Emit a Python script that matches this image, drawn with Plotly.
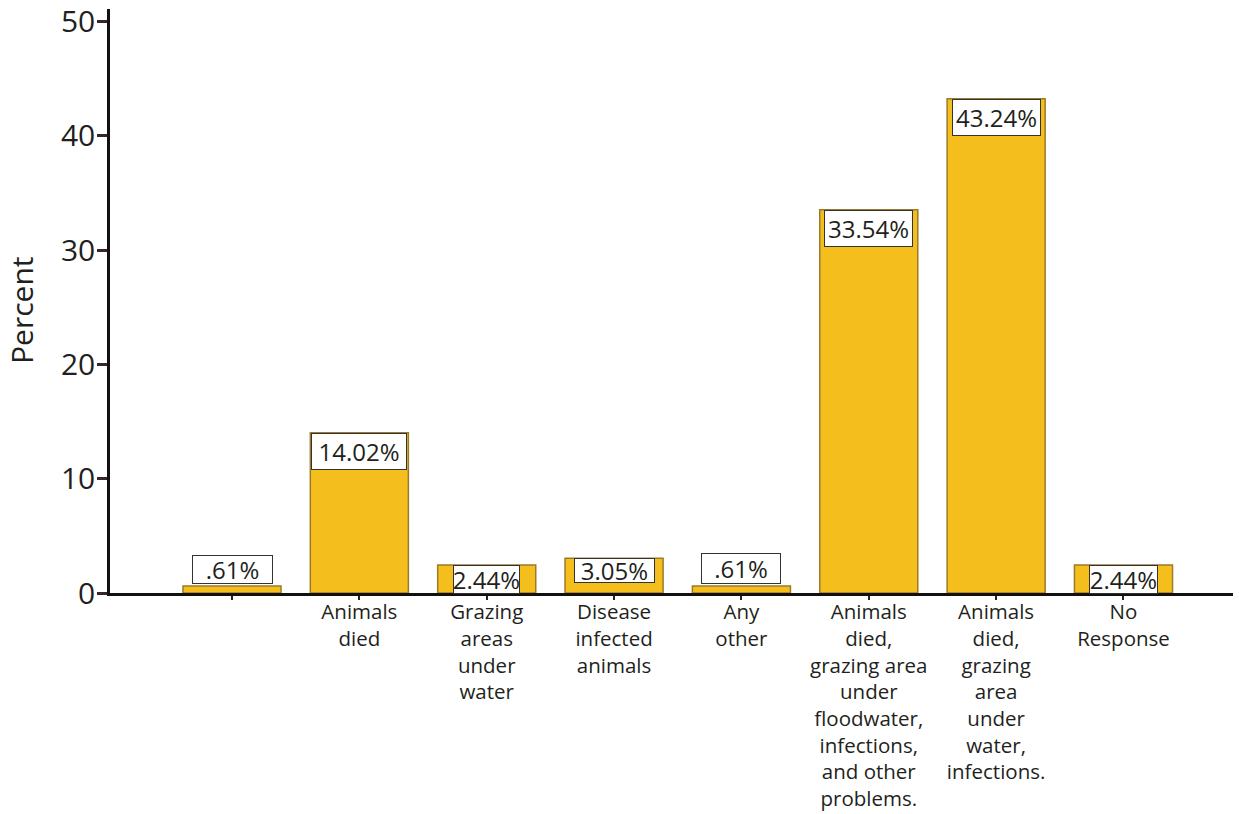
import plotly.graph_objects as go

# Reported impact on livestock (percent of respondents)
categories = [
    "",
    "Animals<br>died",
    "Grazing<br>areas<br>under<br>water",
    "Disease<br>infected<br>animals",
    "Any<br>other",
    "Animals<br>died,<br>grazing area<br>under<br>floodwater,<br>infections,<br>and other<br>problems.",
    "Animals<br>died,<br>grazing<br>area<br>under<br>water,<br>infections.",
    "No<br>Response",
]
percent = [0.61, 14.02, 2.44, 3.05, 0.61, 33.54, 43.24, 2.44]
y_ticks = [0, 10, 20, 30, 40, 50]

# size of each value box in pixels (width, height)
box_sizes = [(79, 27), (94, 35), (65, 27), (79, 23), (78, 29), (87, 35), (87, 35), (67, 27)]

FONT = "Open Sans"
TEXT = "#231f20"
BAR = "#f4bf1c"
EDGE = "#9c7a2c"

positions = list(range(len(categories)))


def fmt(v):
    s = f"{v:.2f}%"
    return s[1:] if s.startswith("0.") else s


fig = go.Figure(
    go.Bar(
        x=positions,
        y=percent,
        width=0.77,
        marker=dict(color=BAR, line=dict(color=EDGE, width=1.5)),
        hoverinfo="skip",
    )
)

# value boxes: inside the top of the bar, or just above it for tiny bars
for xi, v, (bw, bh) in zip(positions, percent, box_sizes):
    tiny = v < 1
    fig.add_annotation(
        x=xi,
        y=v,
        xref="x",
        yref="y",
        text=fmt(v),
        showarrow=False,
        yanchor="bottom" if tiny else "top",
        yshift=2 if tiny else 0,
        width=bw,
        height=bh,
        align="center",
        valign="middle",
        bgcolor="white",
        bordercolor="#333333",
        borderwidth=1,
        borderpad=0,
        font=dict(family=FONT, size=24, color=TEXT),
    )

fig.add_annotation(
    text="Percent",
    xref="paper",
    yref="paper",
    x=(22 - 110) / 1123,
    y=0.483,
    xanchor="center",
    yanchor="middle",
    showarrow=False,
    textangle=-90,
    font=dict(family=FONT, size=30, color=TEXT),
)

fig.update_layout(
    width=1239,
    height=814,
    margin=dict(l=110, r=6, t=9, b=221),
    paper_bgcolor="white",
    plot_bgcolor="white",
    showlegend=False,
    font=dict(family=FONT, color=TEXT),
)

fig.update_xaxes(
    range=[-0.958, 7.86],
    tickmode="array",
    tickvals=positions,
    ticktext=categories,
    tickangle=0,
    ticks="outside",
    ticklen=4,
    tickwidth=2,
    tickcolor="#2a1e1e",
    tickfont=dict(family=FONT, size=20.5, color=TEXT),
    ticklabelstandoff=-5,
    showline=True,
    linecolor="#111111",
    linewidth=2.5,
    showgrid=False,
    zeroline=False,
    automargin=False,
)

fig.update_yaxes(
    range=[0, 51.1],
    tickmode="array",
    tickvals=y_ticks,
    ticks="outside",
    ticklen=10,
    tickwidth=2.5,
    tickcolor="#3a2626",
    tickfont=dict(family=FONT, size=30, color=TEXT),
    ticklabelstandoff=-4,
    showline=True,
    linecolor="#111111",
    linewidth=2.5,
    showgrid=False,
    zeroline=False,
    automargin=False,
)

fig.write_html("out.html")
